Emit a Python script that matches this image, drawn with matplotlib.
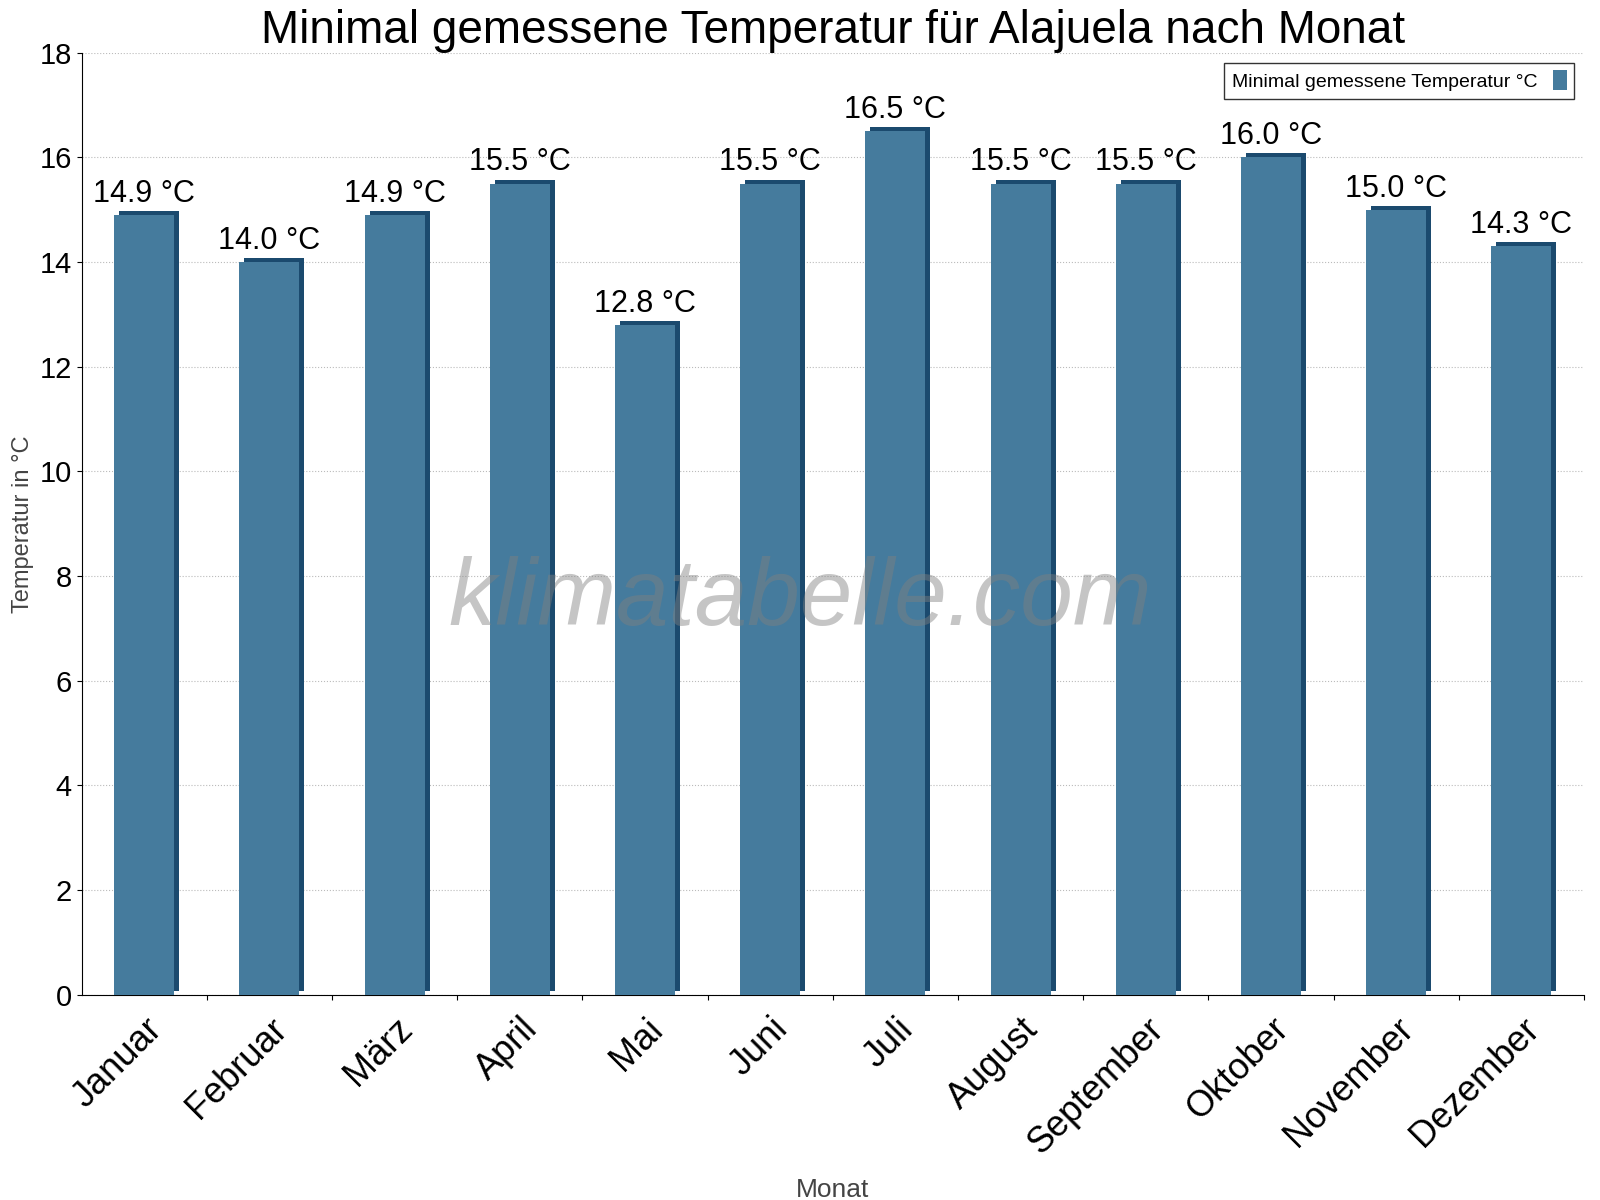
import matplotlib
matplotlib.use("Agg")
import matplotlib.pyplot as plt
import matplotlib.transforms as mtransforms

months = ["Januar","Februar","März","April","Mai","Juni","Juli","August","September","Oktober","November","Dezember"]
values = [14.9,14.0,14.9,15.5,12.8,15.5,16.5,15.5,15.5,16.0,15.0,14.3]
yticks = [0,2,4,6,8,10,12,14,16,18]

plt.rcParams["font.family"] = "Liberation Sans"
fig = plt.figure(figsize=(16,12), dpi=100)
ax = fig.add_axes([0.051, 0.171, 0.939, 0.785])
x = list(range(len(months)))
off = mtransforms.ScaledTranslation(5/100, 4/100, fig.dpi_scale_trans)
ax.bar(x, values, width=0.48, color="#1b4a6e", transform=ax.transData + off, zorder=2)
ax.bar(x, values, width=0.48, color="#457b9d", zorder=3, label="Minimal gemessene Temperatur °C")
for xi, v in zip(x, values):
    ax.text(xi, v + 0.12, f"{v:.1f} °C", ha="center", va="bottom", fontsize=22, zorder=4)
ax.set_xlim(-0.5, 11.5)
ax.set_ylim(0, 18)
ax.set_yticks(yticks)
ax.tick_params(axis="y", labelsize=21)
ax.set_xticks([i + 0.5 for i in range(12)], minor=False)
ax.set_xticklabels([])
ax.set_xticks(x, minor=True)
ax.set_xticklabels(months, minor=True, rotation=45, ha="right", rotation_mode="anchor", fontsize=26)
ax.tick_params(axis="x", which="minor", length=0, pad=12)
ax.grid(axis="y", linestyle=":", color="#bbbbbb", zorder=0)
for s in ["top", "right"]:
    ax.spines[s].set_visible(False)
ax.set_ylabel("Temperatur in °C", fontsize=17, color="#444444")
ax.set_xlabel("Monat", fontsize=19, color="#444444", labelpad=12)
ax.set_title("Minimal gemessene Temperatur für Alajuela nach Monat", fontsize=33, pad=6)
leg = ax.legend(loc="upper right", fontsize=14, fancybox=False, edgecolor="black", markerfirst=False,
                handlelength=0.7, handleheight=1.2)
leg.get_frame().set_linewidth(1)
fig.text(0.5, 0.5, "klimatabelle.com", fontsize=68, style="italic", color="gray", alpha=0.45,
         ha="center", va="center")
fig.savefig("out.png", dpi=100)
